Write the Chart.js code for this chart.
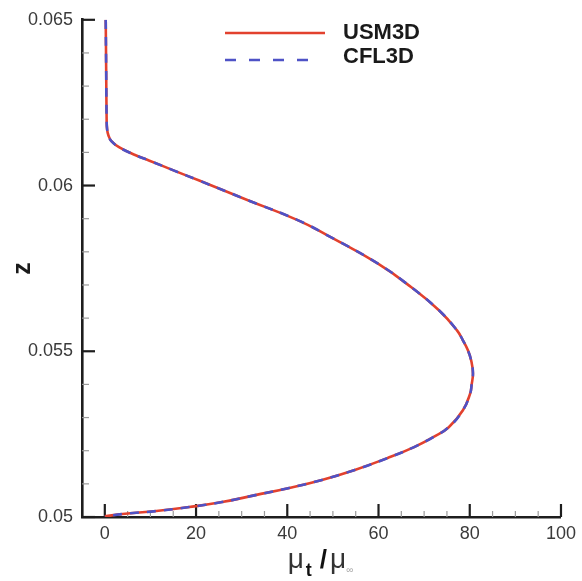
<!DOCTYPE html>
<html>
<head>
<meta charset="utf-8">
<script src="https://cdn.jsdelivr.net/npm/chart.js@4/dist/chart.umd.min.js"></script>
<style>
  html, body { margin: 0; padding: 0; background: #fff; }
  canvas { display: block; }
</style>
</head>
<body>
<canvas id="c" width="582" height="581"></canvas>
<script>
// Eddy-viscosity ratio profile across the wall-normal coordinate z
const zValues = [0.065, 0.0635, 0.062, 0.0617, 0.06151, 0.06133, 0.06114, 0.06093, 0.06075, 0.06045,
                 0.06015, 0.05985, 0.05955, 0.05895, 0.05849, 0.05765, 0.05693, 0.05623, 0.05563, 0.05533,
                 0.05503, 0.05473, 0.05434, 0.05398, 0.05373, 0.05322, 0.05271, 0.05241, 0.05211, 0.05178,
                 0.05142, 0.05111, 0.05087, 0.05066, 0.05045, 0.05030, 0.05018, 0.05009, 0.05002];
const usm3dMu = [0.2, 0.3, 0.4, 0.5, 0.8, 1.5, 3.3, 6.5, 9.8, 15.2,
                 20.7, 26.1, 31.5, 42.4, 48.9, 59.8, 67.2, 73.3, 77.2, 78.5,
                 79.6, 80.3, 80.7, 80.4, 80.1, 78.5, 75.4, 72.0, 67.8, 62.0,
                 54.8, 47.4, 40.2, 33.0, 25.7, 18.5, 11.3, 3.9, 0.0];
const cfl3dMu = [0.2, 0.3, 0.4, 0.5, 0.8, 1.5, 3.3, 6.5, 9.8, 15.2,
                 20.7, 26.1, 31.5, 42.4, 48.9, 59.8, 67.2, 73.3, 77.2, 78.5,
                 79.6, 80.3, 80.7, 80.4, 80.1, 78.5, 75.4, 72.0, 67.8, 62.0,
                 54.8, 47.4, 40.2, 33.0, 25.7, 18.5, 11.3, 3.9, 0.0];
const seriesNames = ['USM3D', 'CFL3D'];
const xMajorTicks = [0, 20, 40, 60, 80, 100];
const zMajorTicks = [0.05, 0.055, 0.06, 0.065];

const toPoints = (xs, ys) => xs.map((x, i) => ({ x: x, y: ys[i] }));
const isMajor = (list, v) => list.some(m => Math.abs(m - v) < 1e-9);

const RED = '#e2412e';
const BLUE = '#4e52c6';
const AXIS = '#1e1e1e';
const LABEL_FONT = 'Liberation Sans, Arial, Helvetica, sans-serif';

// inward-pointing major and minor tick marks on both axes
const axisTicks = {
  id: 'axisTicks',
  beforeDatasetsDraw(chart) {
    const ctx = chart.ctx;
    const { left, bottom } = chart.chartArea;
    const xs = chart.scales.x, ys = chart.scales.y;
    ctx.save();
    xs.ticks.forEach(t => {
      if (t.value <= xs.min + 1e-9) return;
      const px = xs.getPixelForValue(t.value);
      const major = isMajor(xMajorTicks, t.value);
      ctx.strokeStyle = major ? AXIS : '#9a9a9a';
      ctx.lineWidth = major ? 2.2 : 1.2;
      ctx.beginPath();
      ctx.moveTo(px, bottom);
      ctx.lineTo(px, bottom - (major ? 13 : 6));
      ctx.stroke();
    });
    ys.ticks.forEach(t => {
      const py = ys.getPixelForValue(t.value);
      const major = isMajor(zMajorTicks, t.value);
      ctx.strokeStyle = major ? AXIS : '#9a9a9a';
      ctx.lineWidth = major ? 2.2 : 1.2;
      ctx.beginPath();
      ctx.moveTo(left, py);
      ctx.lineTo(left + (major ? 13 : 7), py);
      ctx.stroke();
    });
    ctx.restore();
  }
};

// legend with line samples inside the plot area
const lineLegend = {
  id: 'lineLegend',
  afterDraw(chart) {
    const ctx = chart.ctx;
    const rows = [{ y: 33, ty: 33, len: 100 }, { y: 60, ty: 57, len: 92 }];
    ctx.save();
    chart.data.datasets.forEach((ds, i) => {
      const r = rows[i];
      ctx.strokeStyle = ds.borderColor;
      ctx.lineWidth = 2.6;
      ctx.setLineDash(ds.borderDash ? [11, 13] : []);
      ctx.beginPath();
      ctx.moveTo(225, r.y);
      ctx.lineTo(225 + r.len, r.y);
      ctx.stroke();
      ctx.setLineDash([]);
      ctx.fillStyle = '#1a1a1a';
      ctx.font = 'bold 22px ' + LABEL_FONT;
      ctx.textBaseline = 'middle';
      ctx.textAlign = 'left';
      ctx.fillText(ds.label, 343, r.ty);
    });
    ctx.restore();
  }
};

// x-axis title: mu_t / mu_inf with subscripts
const xTitle = {
  id: 'xTitle',
  afterDraw(chart) {
    const ctx = chart.ctx;
    const { left, right } = chart.chartArea;
    const parts = [
      { t: '\u03bc', f: '28px ' + LABEL_FONT, dy: 0, c: '#333', gap: 2 },
      { t: 't', f: 'bold 18px ' + LABEL_FONT, dy: 8, c: '#111', gap: 8 },
      { t: '/', f: 'bold 26px ' + LABEL_FONT, dy: 0, c: '#111', gap: 3 },
      { t: '\u03bc', f: '28px ' + LABEL_FONT, dy: 0, c: '#333', gap: 0 },
      { t: '\u221e', f: '10px ' + LABEL_FONT, dy: 5, c: '#aaa', gap: 0 }
    ];
    ctx.save();
    ctx.textBaseline = 'alphabetic';
    ctx.textAlign = 'left';
    let total = 0;
    parts.forEach(p => { ctx.font = p.f; p.w = ctx.measureText(p.t).width; total += p.w + p.gap; });
    let x = (left + right) / 2 - total / 2 - 1;
    const base = 568;
    parts.forEach(p => {
      ctx.font = p.f;
      ctx.fillStyle = p.c;
      ctx.fillText(p.t, x, base + p.dy);
      x += p.w + p.gap;
    });
    ctx.restore();
  }
};

new Chart(document.getElementById('c'), {
  type: 'scatter',
  data: {
    datasets: [
      {
        label: seriesNames[0],
        data: toPoints(usm3dMu, zValues),
        showLine: true,
        borderColor: RED,
        backgroundColor: RED,
        borderWidth: 2.6,
        pointRadius: 0,
        tension: 0.45,
        order: 1
      },
      {
        label: seriesNames[1],
        data: toPoints(cfl3dMu, zValues),
        showLine: true,
        borderColor: BLUE,
        backgroundColor: BLUE,
        borderWidth: 2.6,
        borderDash: [9, 8],
        pointRadius: 0,
        tension: 0.45,
        order: 0
      }
    ]
  },
  options: {
    responsive: false,
    animation: false,
    devicePixelRatio: 1,
    layout: { padding: { left: 0, right: 17, top: 19, bottom: 0 } },
    plugins: {
      legend: { display: false },
      tooltip: { enabled: false }
    },
    scales: {
      x: {
        type: 'linear',
        min: -5,
        max: 100,
        afterFit(s) { s.height = 64; },
        grid: { display: true, drawOnChartArea: false, drawTicks: false },
        border: { display: true, color: AXIS, width: 2.6 },
        ticks: {
          stepSize: 5,
          autoSkip: false,
          maxRotation: 0,
          padding: 6,
          color: '#3a3a3a',
          font: { family: LABEL_FONT, size: 18 },
          callback: v => (isMajor(xMajorTicks, v) ? String(v) : '')
        }
      },
      y: {
        type: 'linear',
        min: 0.05,
        max: 0.065,
        afterFit(s) { s.width = 82; },
        grid: { display: true, drawOnChartArea: false, drawTicks: false },
        border: { display: true, color: AXIS, width: 2.6 },
        title: {
          display: true,
          text: 'z',
          color: '#1a1a1a',
          padding: { top: 8, bottom: 0 },
          font: { family: LABEL_FONT, size: 25, weight: 'bold' }
        },
        ticks: {
          stepSize: 0.001,
          autoSkip: false,
          padding: 9,
          color: '#3a3a3a',
          font: { family: LABEL_FONT, size: 18 },
          callback: v => (isMajor(zMajorTicks, v) ? String(+v.toFixed(3)) : '')
        }
      }
    }
  },
  plugins: [axisTicks, lineLegend, xTitle]
});
</script>
</body>
</html>
